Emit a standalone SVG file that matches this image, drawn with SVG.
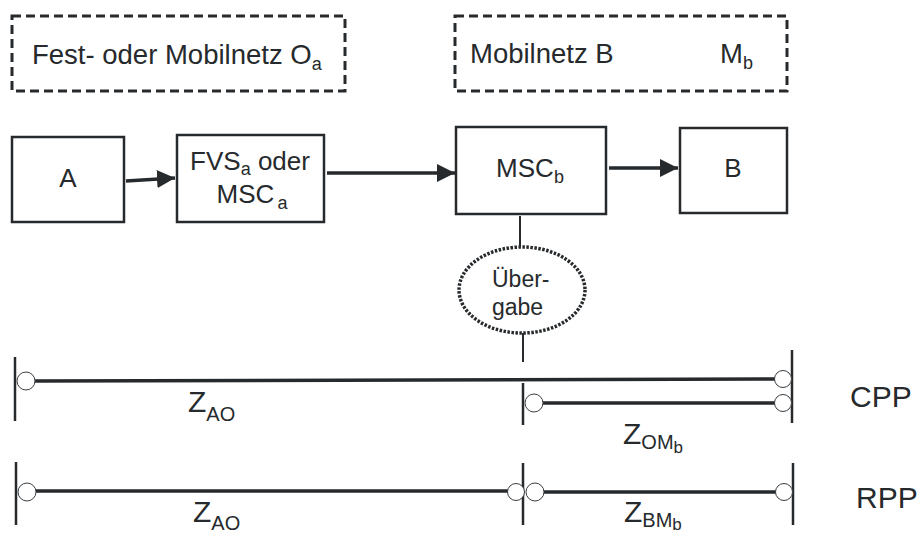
<svg xmlns="http://www.w3.org/2000/svg" width="918" height="535" viewBox="0 0 918 535">
<style>
text{font-family:"Liberation Sans",Arial,sans-serif;fill:#262a2c}
.dash{fill:none;stroke:#262a2c;stroke-width:3;stroke-dasharray:9 5}
.box{fill:#fff;stroke:#262a2c;stroke-width:2.5}
.con{fill:none;stroke:#262a2c;stroke-width:3.5}
.bar{fill:none;stroke:#262a2c;stroke-width:2.5}
.thin{fill:none;stroke:#262a2c;stroke-width:2}
.ring{fill:#fff;stroke:#3a3d40;stroke-width:1}
.l{font-size:27.5px}
.b{font-size:26px}
.z{font-size:30px}
</style>
<defs>
<marker id="ah" markerUnits="userSpaceOnUse" markerWidth="18" markerHeight="18" refX="18" refY="9" orient="auto">
<path d="M0,0 L18,9 L0,18 z" fill="#262a2c"/>
</marker>
</defs>
<g id="netz-oa">
<rect class="dash" x="12" y="16" width="333" height="75"/>
<text class="l" x="32" y="64">Fest- oder Mobilnetz O<tspan font-size="18" dy="6">a</tspan></text>
</g>
<g id="netz-b">
<rect class="dash" x="455" y="16" width="332" height="75"/>
<text class="l" x="470" y="63">Mobilnetz B</text>
<text class="l" x="720" y="63">M<tspan font-size="18" dy="6">b</tspan></text>
</g>
<g id="node-a">
<rect class="box" x="12" y="137" width="112" height="85"/>
<text class="b" x="68" y="187" text-anchor="middle">A</text>
</g>
<g id="node-fvs">
<rect class="box" x="177" y="135" width="147" height="87"/>
<text class="b" x="250" y="170" text-anchor="middle">FVS<tspan font-size="18" dy="5">a</tspan><tspan dy="-5"> oder</tspan></text>
<text class="b" x="252" y="203" text-anchor="middle">MSC<tspan font-size="18" dx="3" dy="6">a</tspan></text>
</g>
<g id="node-mscb">
<rect class="box" x="456" y="127" width="150" height="87"/>
<text class="b" x="530" y="177" text-anchor="middle">MSC<tspan font-size="18" dy="6">b</tspan></text>
</g>
<g id="node-b">
<rect class="box" x="680" y="128" width="107" height="85"/>
<text class="b" x="733" y="177" text-anchor="middle">B</text>
</g>
<g id="node-uebergabe">
<ellipse cx="522" cy="290" rx="63" ry="43" fill="#fff" stroke="#262a2c" stroke-width="3.5" stroke-dasharray="2.5 1.5"/>
<text x="492" y="287" font-size="23">Über-</text>
<text x="492" y="315" font-size="23">gabe</text>
</g>
<g id="connectors">
<line class="con" x1="126" y1="181" x2="175" y2="178" marker-end="url(#ah)"/>
<line class="con" x1="327" y1="173" x2="455" y2="173" marker-end="url(#ah)"/>
<line class="con" x1="609" y1="168" x2="678" y2="168" marker-end="url(#ah)"/>
<line class="thin" x1="520" y1="216" x2="520" y2="247"/>
<line class="thin" x1="523" y1="333" x2="523" y2="362"/>
</g>
<g id="cpp">
<line class="bar" x1="15" y1="357" x2="15" y2="421"/>
<line class="bar" x1="792" y1="350" x2="792" y2="423"/>
<line class="bar" x1="523" y1="383" x2="523" y2="425"/>
<line class="con" x1="33" y1="381" x2="776" y2="379" stroke-width="4"/>
<circle class="ring" cx="26" cy="381" r="9"/>
<circle class="ring" cx="783" cy="379" r="8.5"/>
<line class="con" x1="540" y1="403" x2="776" y2="403" stroke-width="4"/>
<circle class="ring" cx="534" cy="403" r="9"/>
<circle class="ring" cx="783" cy="403" r="8.5"/>
<text class="z" x="188" y="412">Z<tspan font-size="20" dy="9">AO</tspan></text>
<text class="z" x="623" y="444">Z<tspan font-size="20" dy="5">OM</tspan><tspan font-size="17" dy="4">b</tspan></text>
<text class="z" x="850" y="407">CPP</text>
</g>
<g id="rpp">
<line class="bar" x1="16" y1="462" x2="16" y2="525"/>
<line class="bar" x1="523" y1="463" x2="523" y2="525"/>
<line class="bar" x1="793" y1="463" x2="793" y2="525"/>
<line class="con" x1="34" y1="491" x2="509" y2="491" stroke-width="4"/>
<circle class="ring" cx="27" cy="492" r="9"/>
<circle class="ring" cx="516" cy="492" r="8.5"/>
<line class="con" x1="541" y1="492" x2="776" y2="492" stroke-width="4"/>
<circle class="ring" cx="535" cy="492" r="9"/>
<circle class="ring" cx="784" cy="492" r="8.5"/>
<text class="z" x="193" y="522">Z<tspan font-size="20" dy="8">AO</tspan></text>
<text class="z" x="624" y="522">Z<tspan font-size="20" dy="5">BM</tspan><tspan font-size="17" dy="3">b</tspan></text>
<text class="z" x="856" y="508">RPP</text>
</g>
</svg>
